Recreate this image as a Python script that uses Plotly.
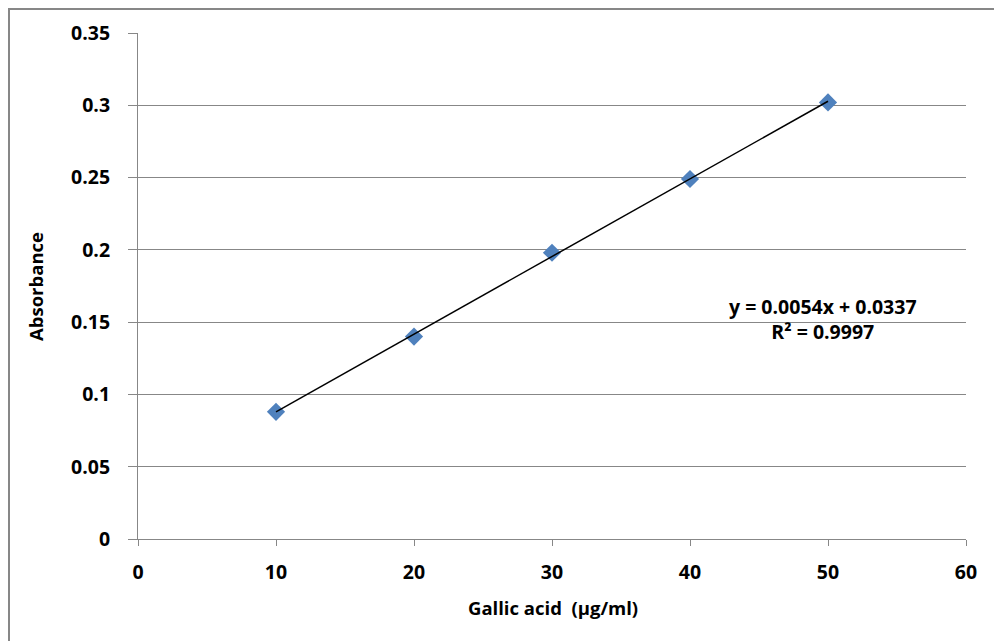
import numpy as np
import plotly.graph_objects as go

# Data
concentration = [10, 20, 30, 40, 50]
absorbance = [0.088, 0.140, 0.198, 0.249, 0.302]
x_ticks = [0, 10, 20, 30, 40, 50, 60]
y_ticks = [0, 0.05, 0.1, 0.15, 0.2, 0.25, 0.3, 0.35]
y_tick_text = ["0", "0.05", "0.1", "0.15", "0.2", "0.25", "0.3", "0.35"]
equation_text = "y = 0.0054x + 0.0337<br>R² = 0.9997"
x_title = "Gallic acid  (µg/ml)"
y_title = "Absorbance"

slope, intercept = np.polyfit(concentration, absorbance, 1)
fit_x = [concentration[0], concentration[-1]]
fit_y = [slope * v + intercept for v in fit_x]

W, H = 994, 641
L, R, T, B = 138, 28, 33, 102
pw, ph = W - L - R, H - T - B

FONT = "Open Sans"
grid = "#878787"
tick_font = dict(family=FONT, size=19.5, weight="bold", color="black")
ann_font = dict(family=FONT, size=19.5, weight="bold", color="black")
title_font = dict(family=FONT, size=18.5, weight="bold", color="black")


def px(xp):
    return (xp - L) / pw


def py(yp):
    return (H - B - yp) / ph


fig = go.Figure()
fig.add_trace(go.Scatter(
    x=concentration, y=absorbance, mode="markers",
    marker=dict(symbol="diamond", size=14, color="#4F81BD",
                line=dict(width=0)),
    showlegend=False, cliponaxis=False))
fig.add_trace(go.Scatter(
    x=fit_x, y=fit_y, mode="lines",
    line=dict(color="black", width=1.5), showlegend=False))

fig.update_layout(
    width=W, height=H, autosize=False,
    margin=dict(l=L, r=R, t=T, b=B, pad=0),
    paper_bgcolor="white", plot_bgcolor="white",
    font=dict(family=FONT, color="black"),
    xaxis=dict(
        range=[0, 60], tickvals=x_ticks, showgrid=False, zeroline=False,
        showline=True, linecolor=grid, linewidth=1,
        ticks="outside", ticklen=6, tickcolor=grid, tickwidth=1,
        tickfont=tick_font, ticklabelstandoff=10,
    ),
    yaxis=dict(
        range=[0, 0.35], tickvals=y_ticks, ticktext=y_tick_text,
        showgrid=True, gridcolor=grid, gridwidth=1, zeroline=False,
        showline=True, linecolor=grid, linewidth=1,
        ticks="outside", ticklen=9, tickcolor=grid, tickwidth=1,
        tickfont=tick_font, ticklabelstandoff=14,
    ),
    annotations=[
        dict(x=px(823), y=py(319), xref="paper", yref="paper",
             text=equation_text, showarrow=False, align="center",
             xanchor="center", yanchor="middle", font=ann_font),
        dict(x=px(553), y=py(608), xref="paper", yref="paper",
             text=x_title, showarrow=False,
             xanchor="center", yanchor="middle", font=title_font),
        dict(x=px(35), y=py(287), xref="paper", yref="paper",
             text=y_title, showarrow=False, textangle=-90,
             xanchor="center", yanchor="middle", font=title_font),
    ],
    shapes=[dict(
        type="rect", xref="paper", yref="paper",
        x0=px(9), x1=px(1000), y0=py(660), y1=py(9),
        line=dict(color=grid, width=2), fillcolor="rgba(0,0,0,0)",
        layer="below")],
)

fig.write_html("out.html")
